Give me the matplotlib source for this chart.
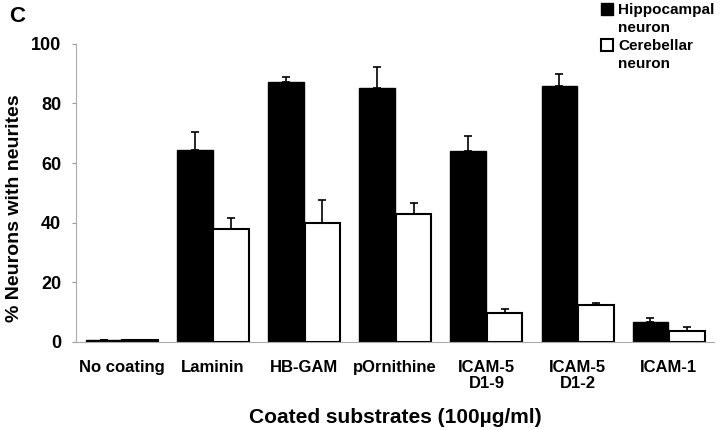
import matplotlib
matplotlib.use("Agg")
from matplotlib import pyplot as plt
from matplotlib.patches import Rectangle
import numpy as np

plt.rcParams["font.family"] = ["Liberation Sans", "DejaVu Sans"]
plt.rcParams["font.weight"] = "bold"

categories = ["No coating", "Laminin", "HB-GAM", "pOrnithine",
              "ICAM-5\nD1-9", "ICAM-5\nD1-2", "ICAM-1"]
hippo = [0.5, 64.5, 87.2, 85.2, 64.2, 85.8, 6.8]
hippo_err = [0.2, 5.8, 1.8, 7.0, 4.8, 4.2, 1.3]
cereb = [0.5, 38.0, 40.0, 43.0, 9.6, 12.2, 3.7]
cereb_err = [0.2, 3.5, 7.7, 3.5, 1.4, 0.8, 1.3]

fig = plt.figure(figsize=(7.2, 4.3), dpi=100)
ax = fig.add_axes([0.106, 0.205, 0.886, 0.693])

x = np.arange(len(categories))
w = 0.39
b1 = ax.bar(x - 0.2, hippo, w, color="black", edgecolor="black", linewidth=1,
            yerr=[np.zeros(len(hippo)), hippo_err], capsize=3,
            error_kw=dict(ecolor="black", elinewidth=1.2, capthick=1.2))
b2 = ax.bar(x + 0.2, cereb, w, color="white", edgecolor="black", linewidth=1.5,
            yerr=[np.zeros(len(cereb)), cereb_err], capsize=3,
            error_kw=dict(ecolor="black", elinewidth=1.2, capthick=1.2))

ax.set_xlim(-0.5, len(categories) - 0.5)
ax.set_ylim(0, 100)
ax.set_yticks([0, 20, 40, 60, 80, 100])
ax.set_xticks(x)
ax.set_xticklabels(categories, fontsize=12, fontweight="bold", linespacing=1.1)
ax.tick_params(axis="x", length=0, pad=13)
ax.tick_params(axis="y", labelsize=13, length=3, color="#999999", pad=8)
for lab in ax.get_yticklabels():
    lab.set_fontweight("bold")
for s in ["top", "right"]:
    ax.spines[s].set_visible(False)
ax.spines["left"].set_color("#aaaaaa")
ax.spines["bottom"].set_color("#aaaaaa")

ax.set_ylabel("% Neurons with neurites", fontsize=14, fontweight="bold")
ax.yaxis.set_label_coords(-0.083, 0.45)
ax.set_xlabel("Coated substrates (100µg/ml)", fontsize=15, fontweight="bold", labelpad=12)

fig.text(0.012, 0.962, "C", fontsize=16, fontweight="bold", va="center")

# legend: square next to first line only, second line indented
blank = Rectangle((0, 0), 1, 1, fill=False, edgecolor="none", visible=False)
h_black = Rectangle((0, 0), 1, 1, facecolor="black", edgecolor="black")
h_white = Rectangle((0, 0), 1, 1, facecolor="white", edgecolor="black", linewidth=1.5)
fig.legend([h_black, blank, h_white, blank],
           ["Hippocampal", "neuron", "Cerebellar", "neuron"],
           loc="upper left", bbox_to_anchor=(0.816, 1.025), frameon=False,
           prop={"weight": "bold", "size": 11}, handlelength=0.8,
           handleheight=0.8, handletextpad=0.3, labelspacing=0.25)

fig.savefig("out.png", dpi=100)
